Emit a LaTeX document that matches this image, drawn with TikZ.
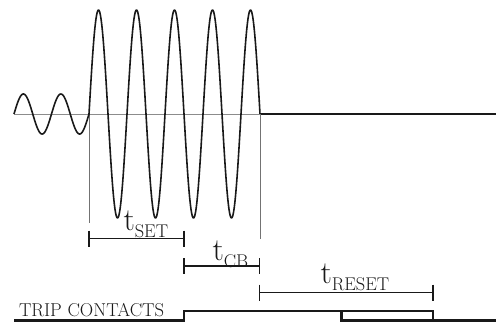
\documentclass[tikz,border=0pt]{standalone}
\usepackage{fontspec}
\setmainfont{Latin Modern Roman}
\usetikzlibrary{calc}
\tikzset{
  axisline/.style={draw=black!45, line width=1pt},
  guide/.style={draw=black!55, line width=0.7pt},
  wave/.style={draw=black!90, line width=1.6pt, line join=round},
  bracket/.style={draw=black!90, line width=1.8pt},
  tick/.style={draw=black!90, line width=1.5pt},
  contact/.style={draw=black!90, line width=2.2pt, line join=miter},
  lbl/.style={anchor=base west, inner sep=0pt, outer sep=0pt, text=black!90},
}
\newcommand{\tlabel}[1]{\fontsize{32}{32}\selectfont t\raisebox{-7bp}{\fontsize{18.5}{18.5}\selectfont #1}}
\begin{document}
\begin{tikzpicture}[x=1bp,y=-1bp]
\useasboundingbox (0,0) rectangle (496,323);
% coordinates
\coordinate (a0) at (14,114);
\coordinate (a1) at (89,114);
\coordinate (a2) at (260,114);
\coordinate (a3) at (496,114);
\coordinate (g1) at (89,223);
\coordinate (g2) at (260,239);
% axis
\draw[axisline] (a0) -- (a2);
\draw[wave, line width=2pt] (a2) -- (a3);
% guides
\draw[guide] (a1) -- (g1);
\draw[guide] (a2) -- (g2);
% waves
\draw[wave] plot[domain=14:89, samples=150, smooth] (\x, {114 - 20*sin((\x-14)/75*720)});
\draw[wave] plot[domain=89:260, samples=400, smooth] (\x, {114 - 104*sin((\x-89)/171*1620)});
% brackets
\coordinate (s0) at (89,238.5);
\coordinate (s1) at (184,238.5);
\coordinate (c0) at (184,266);
\coordinate (c1) at (259.5,266);
\coordinate (r0) at (259.5,292.5);
\coordinate (r1) at (433,292.5);
\draw[bracket] (s0) -- (s1);
\draw[bracket] (c0) -- (c1);
\draw[bracket] (r0) -- (r1);
\foreach \p in {s0,s1,c0,c1,r0,r1}{
  \draw[tick] ($(\p)+(0,-8)$) -- ($(\p)+(0,8)$);
}
% labels
\node[lbl] (tset) at (123.5,230) {\tlabel{SET}};
\node[lbl] (tcb) at (212.5,260) {\tlabel{CB}};
\node[lbl] (treset) at (320.5,283) {\tlabel{RESET}};
\node[lbl] (trip) at (19,316) {\fontsize{18.7}{18.7}\selectfont TRIP CONTACTS};
% trip contacts
\coordinate (k0) at (14,320.5);
\coordinate (k1) at (184,320.5);
\coordinate (k2) at (184,311);
\coordinate (k3) at (433,311);
\coordinate (k4) at (433,320.5);
\coordinate (k5) at (496,320.5);
\coordinate (k6) at (341.5,311);
\coordinate (k7) at (341.5,320.5);
\draw[contact] (k0) -- (k1) -- (k2) -- (k3) -- (k4) -- (k5);
\draw[contact] (k6) -- (k7) -- (k4);
\end{tikzpicture}
\end{document}
